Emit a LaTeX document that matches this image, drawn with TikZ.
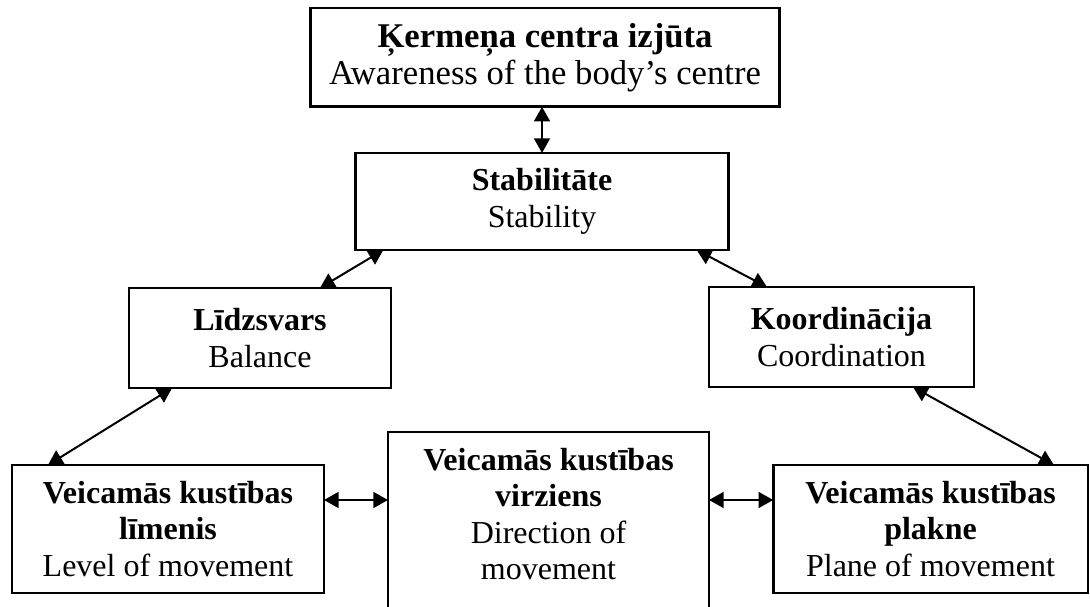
\documentclass[tikz,border=0pt]{standalone}
\usepackage{fontspec}
\setmainfont{Liberation Serif}
\usetikzlibrary{arrows.meta,calc}

\tikzset{
  box/.style={draw, line width=1pt, inner sep=0pt, outer sep=0pt, align=center,
    font=\fontsize{12}{13.7}\selectfont},
  link/.style={{Triangle[length=5.5pt,width=6pt]}-{Triangle[length=5.5pt,width=6pt]}, line width=0.75pt}
}

\begin{document}
\begin{tikzpicture}[x=0.375pt,y=-0.375pt]
\useasboundingbox (0,0) rectangle (1090,607);

\node[box, minimum width=176pt, minimum height=37pt, font=\fontsize{13}{13.8}\selectfont] (centre) at (545,57.5)
  {\textbf{Ķermeņa centra izjūta}\\Awareness of the body’s centre};
\node[box, minimum width=140pt, minimum height=36.4pt] (stab) at (542,201.5)
  {\textbf{Stabilitāte}\\Stability};
\node[box, minimum width=98.2pt, minimum height=37.5pt] (lidz) at (260,338)
  {\textbf{Līdzsvars}\\Balance};
\node[box, minimum width=99.4pt, minimum height=37.5pt] (koord) at (841.5,337)
  {\textbf{Koordinācija}\\Coordination};
\node[box, minimum width=117pt, minimum height=48pt] (level) at (168,529)
  {\textbf{Veicamās kustības}\\\textbf{līmenis}\\Level of movement};
\node[box, minimum width=118pt, minimum height=48pt] (plane) at (930.5,529)
  {\textbf{Veicamās kustības}\\\textbf{plakne}\\Plane of movement};
\node[box, anchor=north, minimum width=120.4pt, inner ysep=6pt, text depth=60pt] (mid) at (548.5,432)
  {\textbf{Veicamās kustības}\\\textbf{virziens}\\Direction of\\movement};

\coordinate (la) at ($(level.east)+(0,-29)$);
\coordinate (pa) at ($(plane.west)+(0,-29)$);

\draw[link] (centre.south -| stab) -- (stab.north);
\draw[link] ($(lidz.north)+(60,0)$) -- ($(stab.south west)+(28,0)$);
\draw[link] ($(stab.south east)+(-32,0)$) -- ($(koord.north west)+(58,0)$);
\draw[link] ($(level.north west)+(36,0)$) -- ($(lidz.south west)+(43,0)$);
\draw[link] ($(koord.south)+(71.5,0)$) -- ($(plane.north east)+(-34,0)$);
\draw[link] (la) -- (la -| mid.west);
\draw[link] (pa -| mid.east) -- (pa);
\end{tikzpicture}
\end{document}
